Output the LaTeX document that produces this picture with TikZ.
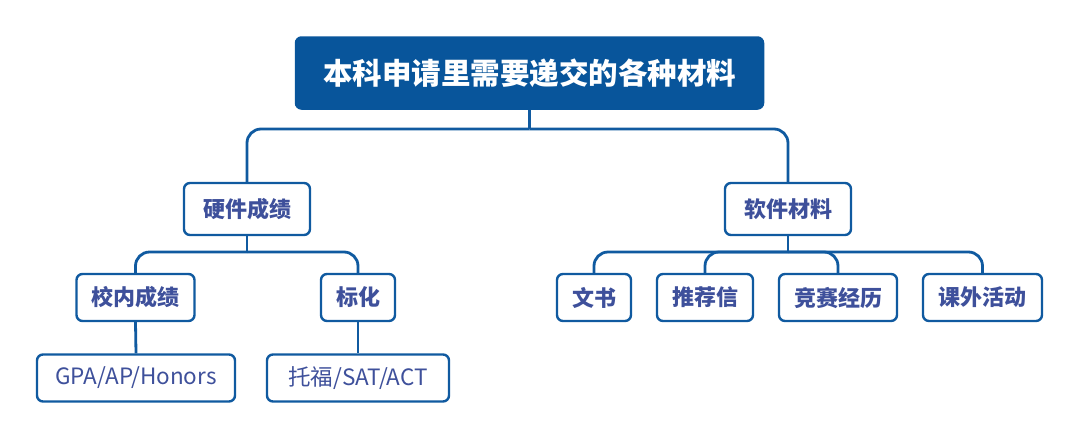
\documentclass[tikz,border=0pt]{standalone}
\usepackage{fontspec}
\setmainfont{Noto Sans CJK SC}
\usepackage{tikz}

\definecolor{deepblue}{RGB}{8,85,155}
\definecolor{linkblue}{RGB}{16,90,160}
\definecolor{inkblue}{RGB}{62,80,155}

\tikzset{
  mainbox/.style={draw=deepblue,fill=deepblue,rounded corners=6pt,line width=1.5pt,
    text=white,font=\bfseries\fontsize{29.5}{34}\selectfont,minimum width=468pt,minimum height=72pt},
  itembox/.style={draw=linkblue,fill=white,rounded corners=6pt,line width=2.4pt,
    text=inkblue,font=\bfseries\fontsize{22}{26}\selectfont,minimum height=47pt,inner xsep=15pt},
  leafbox/.style={itembox,font=\fontsize{22.5}{26}\selectfont},
  link/.style={draw=linkblue,line width=2.8pt,rounded corners=14pt}
}

\begin{document}
\begin{tikzpicture}[x=1pt,y=-1pt]
\useasboundingbox (0,0) rectangle (1080,440);

% top
\node[mainbox] (root) at (529.5,73) {本科申请里需要递交的各种材料};

% first level
\node[itembox,minimum width=126pt,minimum height=52pt] (hard) at (247,209) {硬件成绩};
\node[itembox,minimum width=126pt,minimum height=52pt] (soft) at (788,209) {软件材料};

% second level
\node[itembox,minimum width=117pt] (school) at (135.5,297.5) {校内成绩};
\node[itembox,minimum width=73pt] (test) at (358,297.5) {标化};
\node[itembox,minimum width=74pt] (essay) at (594,297.5) {文书};
\node[itembox,minimum width=96pt] (letter) at (705,297.5) {推荐信};
\node[itembox,minimum width=118pt] (contest) at (838,297.5) {竞赛经历};
\node[itembox,minimum width=119pt] (activity) at (982.5,297.5) {课外活动};

% third level
\node[leafbox,minimum width=198pt] (gpa) at (136,378) {GPA/AP/Honors};
\node[leafbox,minimum width=182pt] (toefl) at (358,378) {托福/SAT/ACT};

% joints
\coordinate (rootj) at (529.5,129);
\coordinate (hardj) at (247,252);
\coordinate (softj) at (788,252);

\draw[link,rounded corners=0pt] (root.south) -- (rootj);
\draw[link] (rootj) -| (hard.north);
\draw[link] (rootj) -| (soft.north);

\draw[link,rounded corners=0pt] (hard.south) -- (hardj);
\draw[link] (hardj) -| (school.north);
\draw[link] (hardj) -| (test.north);

\draw[link,rounded corners=0pt] (soft.south) -- (softj);
\draw[link] (softj) -| (essay.north);
\draw[link] (softj) -| (letter.north);
\draw[link] (softj) -| (contest.north);
\draw[link] (softj) -| (activity.north);

\draw[link] (school.south) -- (gpa.north);
\draw[link] (test.south) -- (toefl.north);
\end{tikzpicture}
\end{document}
